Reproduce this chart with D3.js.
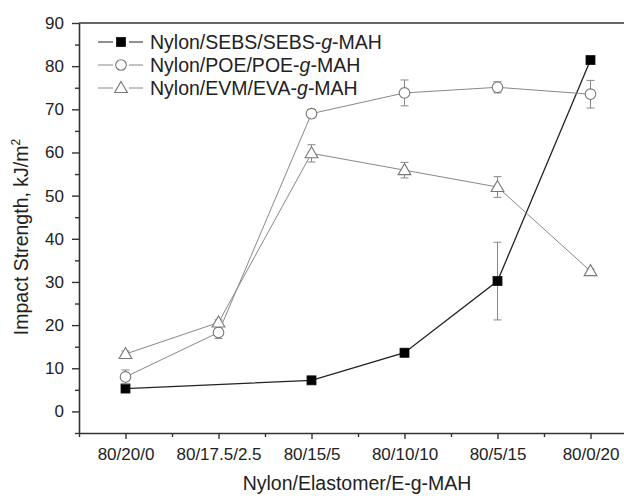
<!DOCTYPE html>
<html>
<head>
<meta charset="utf-8">
<script src="https://cdn.jsdelivr.net/npm/d3@7"></script>
<style>
  body { margin: 0; background: #fff; }
  svg { font-family: Arial, "Liberation Sans", sans-serif; }
</style>
</head>
<body>
<div class="chart"></div>
<script>
(function(){

// categories on x
var categories = ["80/20/0", "80/17.5/2.5", "80/15/5", "80/10/10", "80/5/15", "80/0/20"];

// impact strength, kJ/m2 (null = not measured)
var sebsValues = [5.3, null, 7.2, 13.6, 30.2, 81.4];
var sebsErrors = [0.3, null, 0.3, 1.0, 9.0, 0];
var poeValues  = [8.0, 18.3, 69.0, 73.8, 75.1, 73.5];
var poeErrors  = [1.6, 1.4, 1.0, 3.0, 1.3, 3.2];
var evmValues  = [13.3, 20.6, 59.8, 55.9, 52.0, 32.5];
var evmErrors  = [0.7, 0.6, 2.0, 1.8, 2.4, 0.5];

var yTicks = [0, 10, 20, 30, 40, 50, 60, 70, 80, 90];
var legendLabels = [
    ["Nylon/SEBS/SEBS-", "g", "-MAH"],
    ["Nylon/POE/POE-", "g", "-MAH"],
    ["Nylon/EVM/EVA-", "g", "-MAH"]
];

var series = [
    {values: sebsValues, errors: sebsErrors, marker: "square", line: "#222", stroke: "#111", fill: "#000", lw: 1.3},
    {values: poeValues, errors: poeErrors, marker: "circle", line: "#888", stroke: "#777", fill: "#fff", lw: 1},
    {values: evmValues, errors: evmErrors, marker: "triangle", line: "#888", stroke: "#777", fill: "#fff", lw: 1}
];

var width = 624, height = 496;

var svg = d3.select(".chart").append("svg")
    .attr("width", width)
    .attr("height", height);

var x = d3.scaleLinear().domain([-0.5, 5.5]).range([79, 637]);
var y = d3.scaleLinear().domain([-5, 90]).range([433, 23]);

// top frame line
svg.append("line")
    .attr("x1", x(-0.5)).attr("x2", width)
    .attr("y1", y(90)).attr("y2", y(90))
    .attr("stroke", "#333").attr("stroke-width", 1.6);

// y axis
var yAxis = d3.axisLeft(y).tickValues(yTicks).tickSize(7).tickPadding(8).tickSizeOuter(0);
var gy = svg.append("g").attr("transform", "translate(" + x(-0.5) + ",0)").call(yAxis);
gy.selectAll(".tick text").attr("font-size", 17).attr("fill", "#222");
svg.append("g").attr("transform", "translate(" + x(-0.5) + ",0)")
    .call(d3.axisLeft(y).tickValues(d3.range(-5, 90, 10)).tickSize(4).tickFormat("").tickSizeOuter(0))
    .select(".domain").remove();

// x axis
var xAxis = d3.axisBottom(x).tickValues(d3.range(0, 6)).tickFormat(function(i){ return categories[i]; })
    .tickSize(6).tickPadding(9).tickSizeOuter(0);
var gx = svg.append("g").attr("transform", "translate(0," + y(-5) + ")").call(xAxis);
gx.selectAll(".tick text").attr("font-size", 17).attr("fill", "#222");
svg.append("g").attr("transform", "translate(0," + y(-5) + ")")
    .call(d3.axisBottom(x).tickValues(d3.range(-0.5, 6, 1)).tickSize(4).tickFormat("").tickSizeOuter(0))
    .select(".domain").remove();

svg.selectAll(".domain").attr("stroke", "#333").attr("stroke-width", 1.6);
svg.selectAll(".tick line").attr("stroke", "#333").attr("stroke-width", 1.4);

// axis titles
svg.append("text")
    .attr("x", 357).attr("y", 490)
    .attr("text-anchor", "middle").attr("font-size", 19.5).attr("fill", "#222")
    .text("Nylon/Elastomer/E-g-MAH");

var yt = svg.append("text")
    .attr("transform", "translate(28,237) rotate(-90)")
    .attr("text-anchor", "middle").attr("font-size", 19.5).attr("fill", "#222");
yt.append("tspan").text("Impact Strength, kJ/m");
yt.append("tspan").attr("font-size", 12).attr("dy", -8).text("2");

function drawMarker(g, type, cx, cy, s) {
    if (type === "square") {
        g.append("rect").attr("x", cx - 4.5).attr("y", cy - 4.5).attr("width", 9).attr("height", 9)
            .attr("fill", s.fill).attr("stroke", s.stroke).attr("stroke-width", 0.8);
    } else if (type === "circle") {
        g.append("circle").attr("cx", cx).attr("cy", cy).attr("r", 5.3)
            .attr("fill", s.fill).attr("stroke", s.stroke).attr("stroke-width", 1.1);
    } else {
        g.append("path").attr("d", d3.symbol(d3.symbolTriangle, 70)())
            .attr("transform", "translate(" + cx + "," + (cy + 0.8) + ")")
            .attr("fill", s.fill).attr("stroke", s.stroke).attr("stroke-width", 1.1);
    }
}

// series: lines, error bars, markers
series.forEach(function(s){
    var pts = s.values.map(function(v, i){ return {i: i, v: v, e: s.errors[i]}; })
        .filter(function(d){ return d.v !== null; });

    var line = d3.line().x(function(d){ return x(d.i); }).y(function(d){ return y(d.v); });
    svg.append("path").datum(pts).attr("d", line)
        .attr("fill", "none").attr("stroke", s.line).attr("stroke-width", s.lw);

    var g = svg.append("g");
    pts.forEach(function(d){
        if (d.e > 0.2) {
            var cx = x(d.i);
            g.append("line").attr("x1", cx).attr("x2", cx).attr("y1", y(d.v + d.e)).attr("y2", y(d.v - d.e))
                .attr("stroke", "#888").attr("stroke-width", 1);
            [d.v + d.e, d.v - d.e].forEach(function(yy){
                g.append("line").attr("x1", cx - 4).attr("x2", cx + 4).attr("y1", y(yy)).attr("y2", y(yy))
                    .attr("stroke", "#888").attr("stroke-width", 1);
            });
        }
        drawMarker(g, s.marker, x(d.i), y(d.v), s);
    });
});

// legend
var legendY = [42, 65, 88];
series.forEach(function(s, k){
    var g = svg.append("g");
    g.append("line").attr("x1", 98).attr("x2", 143).attr("y1", legendY[k]).attr("y2", legendY[k])
        .attr("stroke", s.line).attr("stroke-width", 1);
    g.append("rect").attr("x", 113).attr("y", legendY[k] - 5).attr("width", 16).attr("height", 10).attr("fill", "#fff");
    drawMarker(g, s.marker, 121, legendY[k], s);
    var t = g.append("text").attr("x", 150).attr("y", legendY[k] + 7)
        .attr("font-size", 19.5).attr("fill", "#222");
    t.append("tspan").text(legendLabels[k][0]);
    t.append("tspan").attr("font-style", "italic").text(legendLabels[k][1]);
    t.append("tspan").text(legendLabels[k][2]);
});

})();
</script>
</body>
</html>
